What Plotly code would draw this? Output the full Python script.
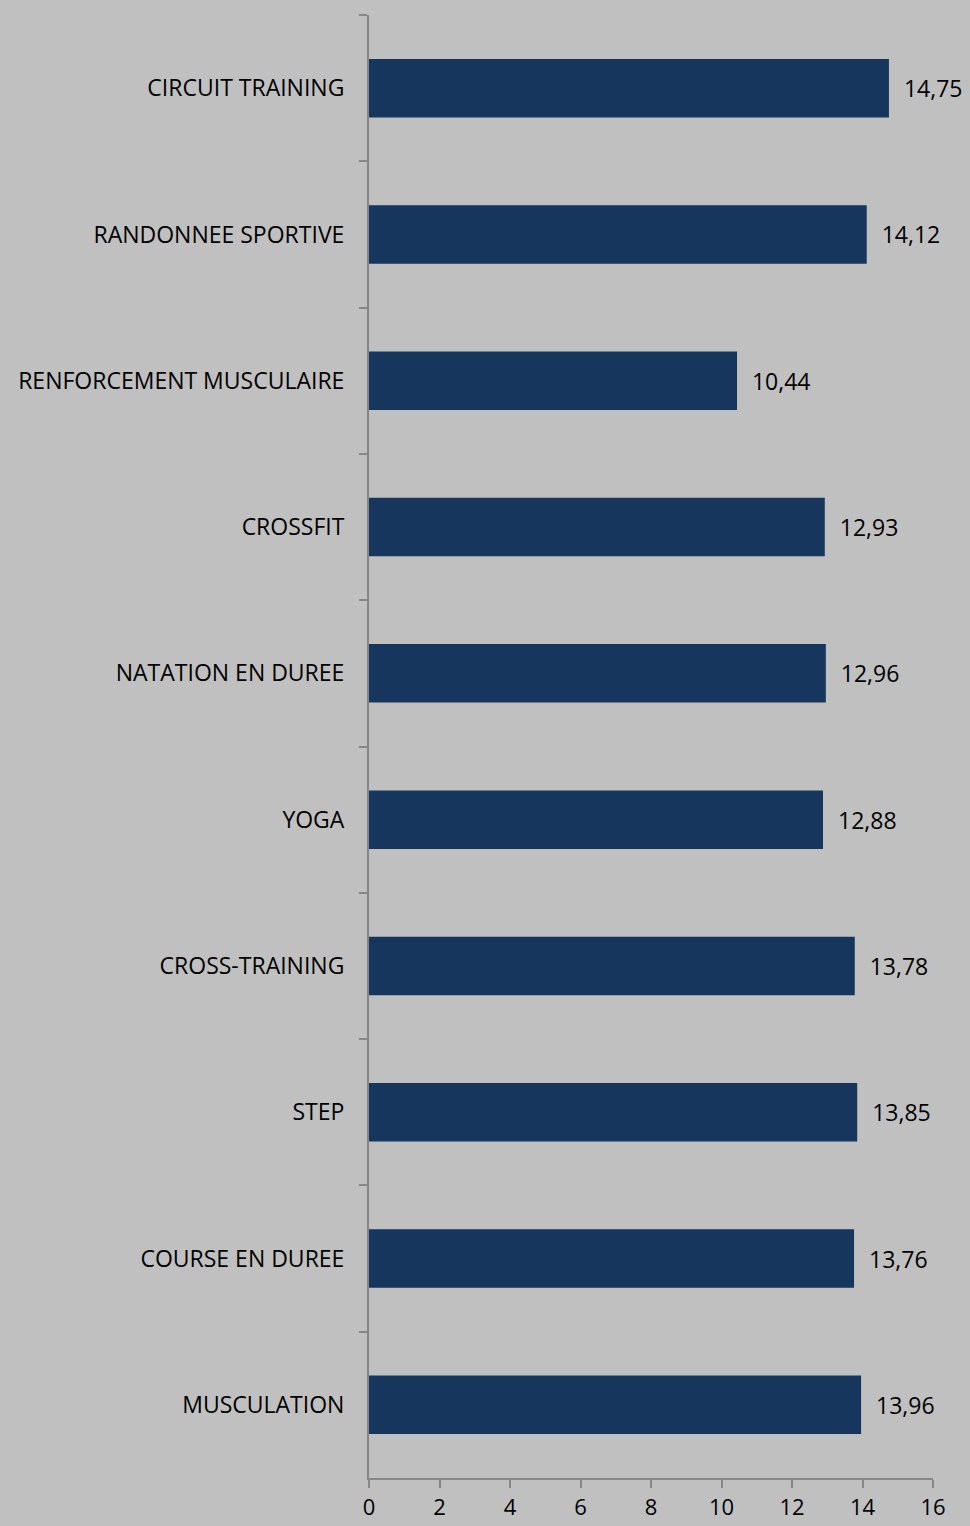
import plotly.graph_objects as go

activites = ["CIRCUIT TRAINING", "RANDONNEE SPORTIVE", "RENFORCEMENT MUSCULAIRE",
             "CROSSFIT", "NATATION EN DUREE", "YOGA", "CROSS-TRAINING", "STEP",
             "COURSE EN DUREE", "MUSCULATION"]
notes = [14.75, 14.12, 10.44, 12.93, 12.96, 12.88, 13.78, 13.85, 13.76, 13.96]
x_ticks = [0, 2, 4, 6, 8, 10, 12, 14, 16]

labels = ["  " + f"{v:.2f}".replace(".", ",") for v in notes]

fig = go.Figure(go.Bar(
    x=notes, y=activites, orientation="h",
    marker=dict(color="#17365D", line=dict(width=0)),
    text=labels, textposition="outside", cliponaxis=False,
    textfont=dict(size=23, color="#000000"),
    width=0.4,
))

fig.update_layout(
    width=970, height=1526,
    paper_bgcolor="#C0C0C0", plot_bgcolor="#C0C0C0",
    margin=dict(l=369, r=37, t=15, b=48),
    font=dict(family="Open Sans", size=23, color="#000000"),
    showlegend=False,
)
fig.update_xaxes(range=[0, 16], tickvals=x_ticks, showgrid=False, zeroline=False,
                 showline=True, linecolor="#868686", linewidth=2,
                 ticks="outside", ticklen=8, tickcolor="#868686", tickwidth=2,
                 tickfont=dict(size=22), ticklabelstandoff=1, automargin=False)
fig.update_yaxes(autorange="reversed", showgrid=False, showline=True,
                 linecolor="#868686", linewidth=2,
                 ticks="outside", ticklen=8, tickcolor="#868686", tickwidth=2,
                 tickson="boundaries", ticklabelstandoff=18, automargin=False)

fig.write_html("out.html", config={"displayModeBar": False},
               post_script="document.body.style.margin='0';")
